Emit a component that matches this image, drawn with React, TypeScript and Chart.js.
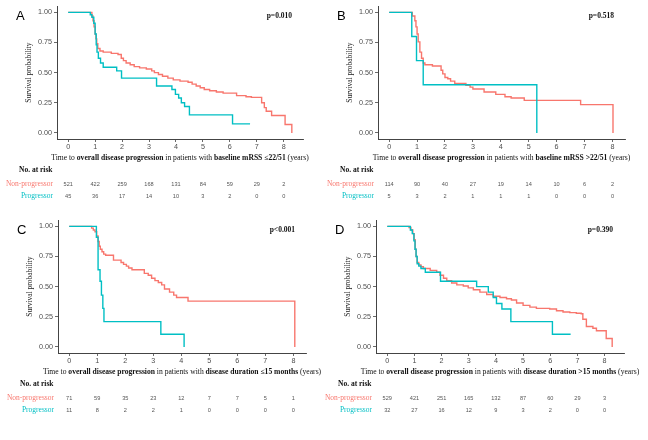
import React, { useEffect, useRef } from 'react';
import { Chart, registerables } from 'chart.js';

Chart.register(...registerables);

const RED = '#F8766D';
const TEAL = '#00BFC4';
const SERIF = '"Liberation Serif", "Times New Roman", serif';
const SANS = '"Liberation Sans", Arial, sans-serif';

const xTickValues = [0, 1, 2, 3, 4, 5, 6, 7, 8];
const yTickValues = [0, 0.25, 0.5, 0.75, 1];
const seriesNames = ['Non-progressor', 'Progressor'];
const yTitle = 'Survival probability';
const riskTitle = 'No. at risk';

// Panel A: baseline mRSS <=22/51
const aNonTime = [0, 0.88, 0.92, 0.96, 1.0, 1.03, 1.06, 1.1, 1.18, 1.3, 1.6, 1.85, 1.97, 2.05, 2.15, 2.3, 2.45, 2.65, 2.9, 3.1, 3.2, 3.35, 3.5, 3.7, 3.9, 4.15, 4.45, 4.6, 4.75, 4.9, 5.05, 5.25, 5.5, 5.75, 6.25, 6.6, 6.8, 7.18, 7.28, 7.35, 7.55, 8.05, 8.3];
const aNonSurv = [1, 0.97, 0.93, 0.88, 0.82, 0.78, 0.74, 0.7, 0.68, 0.67, 0.66, 0.65, 0.62, 0.6, 0.58, 0.565, 0.55, 0.54, 0.53, 0.515, 0.5, 0.485, 0.47, 0.455, 0.44, 0.43, 0.42, 0.405, 0.39, 0.375, 0.36, 0.35, 0.34, 0.33, 0.31, 0.3, 0.295, 0.25, 0.21, 0.18, 0.145, 0.07, 0];
const aProTime = [0, 0.82, 0.88, 0.95, 1.0, 1.04, 1.07, 1.12, 1.2, 1.3, 1.8, 1.98, 3.28, 3.85, 3.98, 4.1, 4.2, 4.32, 4.5, 6.1, 6.75];
const aProSurv = [1, 0.98, 0.96, 0.91, 0.82, 0.73, 0.67, 0.62, 0.58, 0.545, 0.515, 0.455, 0.39, 0.36, 0.32, 0.29, 0.25, 0.22, 0.15, 0.075, 0.075];
const aNonRisk = [521, 422, 259, 168, 131, 84, 59, 29, 2];
const aProRisk = [45, 36, 17, 14, 10, 3, 2, 0, 0];

// Panel B: baseline mRSS >22/51
const bNonTime = [0, 0.83, 0.92, 0.96, 1.0, 1.04, 1.1, 1.16, 1.22, 1.28, 1.55, 1.86, 1.92, 2.0, 2.1, 2.2, 2.35, 2.75, 2.9, 3.0, 3.4, 3.82, 4.15, 4.37, 4.84, 6.86, 8.02];
const bNonSurv = [1, 0.97, 0.93, 0.88, 0.82, 0.755, 0.67, 0.62, 0.58, 0.565, 0.555, 0.52, 0.49, 0.46, 0.45, 0.43, 0.41, 0.395, 0.38, 0.365, 0.34, 0.32, 0.3, 0.29, 0.27, 0.235, 0];
const bProTime = [0, 0.81, 0.98, 1.22, 5.29];
const bProSurv = [1, 0.8, 0.6, 0.4, 0];
const bNonRisk = [114, 90, 40, 27, 19, 14, 10, 6, 2];
const bProRisk = [5, 3, 2, 1, 1, 1, 0, 0, 0];

// Panel C: disease duration <=15 months
const cNonTime = [0, 0.8, 0.86, 0.92, 0.98, 1.03, 1.07, 1.11, 1.17, 1.23, 1.3, 1.58, 1.85, 1.94, 2.04, 2.12, 2.24, 2.68, 2.82, 2.94, 3.06, 3.18, 3.3, 3.4, 3.58, 3.73, 3.83, 4.24, 8.05];
const cNonSurv = [1, 0.985, 0.97, 0.955, 0.92, 0.875, 0.835, 0.81, 0.79, 0.77, 0.76, 0.72, 0.7, 0.685, 0.67, 0.655, 0.64, 0.61, 0.595, 0.57, 0.55, 0.535, 0.515, 0.48, 0.455, 0.43, 0.41, 0.38, 0];
const cProTime = [0, 0.97, 1.03, 1.1, 1.15, 1.2, 1.24, 3.27, 4.1];
const cProSurv = [1, 0.91, 0.64, 0.545, 0.43, 0.32, 0.21, 0.105, 0];
const cNonRisk = [71, 59, 35, 23, 12, 7, 7, 5, 1];
const cProRisk = [11, 8, 2, 2, 1, 0, 0, 0, 0];

// Panel D: disease duration >15 months
const dNonTime = [0, 0.8, 0.87, 0.94, 0.99, 1.03, 1.06, 1.1, 1.16, 1.24, 1.33, 1.58, 1.82, 1.94, 2.07, 2.19, 2.37, 2.56, 2.8, 2.98, 3.17, 3.41, 3.66, 3.9, 4.15, 4.39, 4.57, 4.76, 5.0, 5.25, 5.49, 5.98, 6.23, 6.47, 6.72, 6.96, 7.14, 7.2, 7.33, 7.57, 7.7, 8.06, 8.28];
const dNonSurv = [1, 0.99, 0.97, 0.94, 0.89, 0.81, 0.75, 0.7, 0.68, 0.665, 0.65, 0.635, 0.62, 0.595, 0.57, 0.55, 0.53, 0.515, 0.505, 0.49, 0.475, 0.455, 0.435, 0.42, 0.41, 0.4, 0.39, 0.365, 0.345, 0.33, 0.32, 0.315, 0.3, 0.29, 0.285, 0.28, 0.275, 0.23, 0.17, 0.155, 0.135, 0.07, 0];
const dProTime = [0, 0.85, 0.92, 0.98, 1.02, 1.06, 1.1, 1.16, 1.24, 1.4, 1.96, 3.29, 3.72, 3.9, 4.02, 4.22, 4.55, 6.08, 6.75];
const dProSurv = [1, 0.97, 0.94, 0.88, 0.81, 0.75, 0.69, 0.67, 0.65, 0.62, 0.545, 0.5, 0.455, 0.41, 0.36, 0.315, 0.21, 0.105, 0.105];
const dNonRisk = [529, 421, 251, 165, 132, 87, 60, 29, 3];
const dProRisk = [32, 27, 16, 12, 9, 3, 2, 0, 0];

type Seg = [string, boolean];

interface PanelDef {
  letter: string;
  pValue: string;
  subgroup: string;
  nonTime: number[];
  nonSurv: number[];
  proTime: number[];
  proSurv: number[];
  nonRisk: number[];
  proRisk: number[];
  left: number;
  top: number;
  height: number;
  plotLeft: number;
  plotRight: number;
  xMin: number;
  xMax: number;
}

const PANEL_W = 324;
const PLOT_TOP = 5;
const PLOT_BOTTOM = 139;

const panels: PanelDef[] = [
  { letter: 'A', pValue: 'p=0.010', subgroup: 'baseline mRSS \u226422/51', nonTime: aNonTime, nonSurv: aNonSurv, proTime: aProTime, proSurv: aProSurv, nonRisk: aNonRisk, proRisk: aProRisk, left: 0, top: 0, height: 214, plotLeft: 57, plotRight: 303, xMin: -0.415, xMax: 8.715 },
  { letter: 'B', pValue: 'p=0.518', subgroup: 'baseline mRSS >22/51', nonTime: bNonTime, nonSurv: bNonSurv, proTime: bProTime, proSurv: bProSurv, nonRisk: bNonRisk, proRisk: bProRisk, left: 324, top: 0, height: 214, plotLeft: 54, plotRight: 301, xMin: -0.4, xMax: 8.45 },
  { letter: 'C', pValue: 'p<0.001', subgroup: 'disease duration \u226415 months', nonTime: cNonTime, nonSurv: cNonSurv, proTime: cProTime, proSurv: cProSurv, nonRisk: cNonRisk, proRisk: cProRisk, left: 0, top: 214, height: 226, plotLeft: 58, plotRight: 306, xMin: -0.4, xMax: 8.45 },
  { letter: 'D', pValue: 'p=0.390', subgroup: 'disease duration >15 months', nonTime: dNonTime, nonSurv: dNonSurv, proTime: dProTime, proSurv: dProSurv, nonRisk: dNonRisk, proRisk: dProRisk, left: 324, top: 214, height: 226, plotLeft: 52, plotRight: 300, xMin: -0.415, xMax: 8.715 },
];

function toPoints(t: number[], s: number[]) {
  return t.map((v, i) => ({ x: v, y: s[i] }));
}

function Panel({ def }: { def: PanelDef }) {
  const ref = useRef<HTMLCanvasElement | null>(null);

  useEffect(() => {
    if (!ref.current) return;
    const H = def.height;
    const titleSegs: Seg[] = [
      ['Time to ', false],
      ['overall disease progression', true],
      [' in patients with ', false],
      [def.subgroup, true],
      [' (years)', false],
    ];

    const decor = {
      id: 'kmDecor',
      afterDraw(chart: any) {
        const ctx = chart.ctx as CanvasRenderingContext2D;
        const ca = chart.chartArea;
        const xs = chart.scales.x;
        ctx.save();
        ctx.textBaseline = 'middle';

        // panel letter
        ctx.fillStyle = '#000';
        ctx.textAlign = 'left';
        ctx.font = `13px ${SANS}`;
        ctx.fillText(def.letter, ca.left - 41, 16.5);

        // p-value
        ctx.textAlign = 'right';
        ctx.font = `bold 7.5px ${SERIF}`;
        ctx.fillStyle = '#111';
        ctx.fillText(def.pValue, ca.right - 11, 16);

        // y title
        ctx.save();
        ctx.translate(ca.left - 28, (ca.top + ca.bottom) / 2);
        ctx.rotate(-Math.PI / 2);
        ctx.textAlign = 'center';
        ctx.font = `7.5px ${SERIF}`;
        ctx.fillStyle = '#222';
        ctx.fillText(yTitle, 0, 0);
        ctx.restore();

        // x title (mixed bold)
        const fontFor = (b: boolean) => `${b ? 'bold ' : ''}7.6px ${SERIF}`;
        let total = 0;
        for (const [txt, b] of titleSegs) {
          ctx.font = fontFor(b);
          total += ctx.measureText(txt).width;
        }
        let x = (ca.left + ca.right) / 2 - total / 2;
        ctx.textAlign = 'left';
        ctx.fillStyle = '#111';
        const ty = ca.bottom + 19;
        for (const [txt, b] of titleSegs) {
          ctx.font = fontFor(b);
          ctx.fillText(txt, x, ty);
          x += ctx.measureText(txt).width;
        }

        // risk table
        ctx.font = `bold 7.5px ${SERIF}`;
        ctx.fillStyle = '#111';
        ctx.fillText(riskTitle, ca.left - 38, ca.bottom + 31);

        const rows: [string, string, number[]][] = [
          [seriesNames[0], RED, def.nonRisk],
          [seriesNames[1], TEAL, def.proRisk],
        ];
        rows.forEach(([name, col, vals], r) => {
          const ry = ca.bottom + 45 + r * 12;
          ctx.textAlign = 'right';
          ctx.font = `7.5px ${SERIF}`;
          ctx.fillStyle = col;
          ctx.fillText(name, ca.left - 4, ry);
          ctx.textAlign = 'center';
          ctx.font = `5.6px ${SANS}`;
          ctx.fillStyle = '#555';
          vals.forEach((v, i) => {
            ctx.fillText(String(v), xs.getPixelForValue(xTickValues[i]), ry);
          });
        });
        ctx.restore();
      },
    };

    const chart = new Chart(ref.current, {
      type: 'line',
      data: {
        datasets: [
          {
            label: seriesNames[1],
            data: toPoints(def.proTime, def.proSurv),
            borderColor: TEAL,
            borderWidth: 1.4,
            pointRadius: 0,
            stepped: 'before',
            fill: false,
            order: 0,
          },
          {
            label: seriesNames[0],
            data: toPoints(def.nonTime, def.nonSurv),
            borderColor: RED,
            borderWidth: 1.4,
            pointRadius: 0,
            stepped: 'before',
            fill: false,
            order: 1,
          },
        ],
      },
      options: {
        responsive: false,
        maintainAspectRatio: false,
        devicePixelRatio: 1,
        animation: false,
        layout: { padding: { top: PLOT_TOP, right: PANEL_W - def.plotRight, left: 0, bottom: 0 } },
        plugins: { legend: { display: false }, tooltip: { enabled: false } },
        scales: {
          x: {
            type: 'linear',
            min: def.xMin,
            max: def.xMax,
            afterBuildTicks: (s: any) => {
              s.ticks = xTickValues.map((v) => ({ value: v }));
            },
            afterFit: (s: any) => {
              s.height = H - PLOT_BOTTOM;
            },
            grid: { display: true, drawOnChartArea: false, drawTicks: true, tickLength: 3, color: '#444', lineWidth: 0.8 },
            border: { display: true, color: '#444', width: 1 },
            ticks: {
              font: { family: SANS, size: 7.2 },
              color: '#4D4D4D',
              padding: 1,
              maxRotation: 0,
              autoSkip: false,
              callback: (v: any) => String(v),
            },
          },
          y: {
            type: 'linear',
            min: -0.05,
            max: 1.05,
            afterBuildTicks: (s: any) => {
              s.ticks = yTickValues.map((v) => ({ value: v }));
            },
            afterFit: (s: any) => {
              s.width = def.plotLeft;
            },
            grid: { display: true, drawOnChartArea: false, drawTicks: true, tickLength: 3, color: '#444', lineWidth: 0.8 },
            border: { display: true, color: '#444', width: 1 },
            ticks: {
              font: { family: SANS, size: 7.2 },
              color: '#4D4D4D',
              padding: 2,
              autoSkip: false,
              callback: (v: any) => Number(v).toFixed(2),
            },
          },
        },
      },
      plugins: [decor],
    } as any);

    return () => chart.destroy();
  }, [def]);

  return (
    <canvas
      ref={ref}
      width={PANEL_W}
      height={def.height}
      style={{ position: 'absolute', left: def.left, top: def.top, width: PANEL_W, height: def.height }}
    />
  );
}

export default function App() {
  return (
    <div style={{ position: 'absolute', left: 0, top: 0, width: 648, height: 440, background: '#fff', overflow: 'hidden' }}>
      {panels.map((p) => (
        <Panel key={p.letter} def={p} />
      ))}
    </div>
  );
}
